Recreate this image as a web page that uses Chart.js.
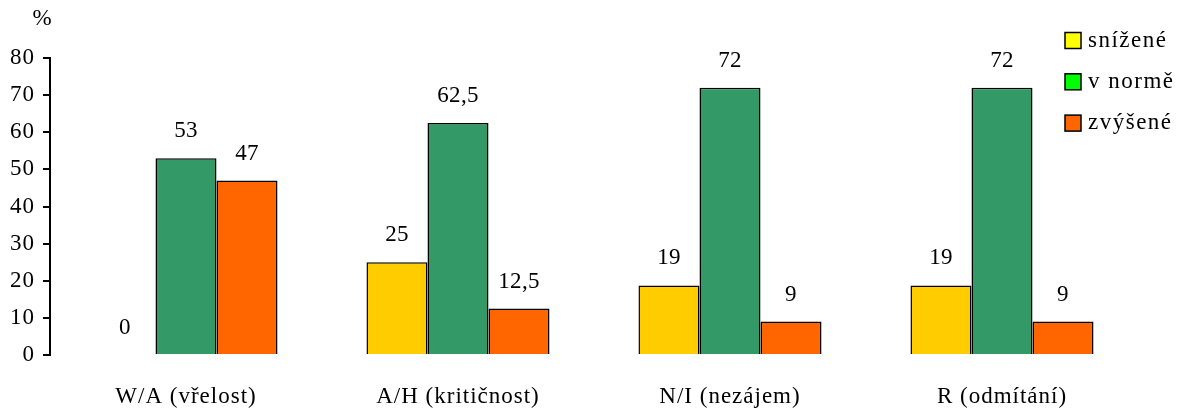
<!DOCTYPE html>
<html>
<head>
<meta charset="utf-8">
<script src="https://cdn.jsdelivr.net/npm/chart.js@4/dist/chart.umd.min.js"></script>
<style>
  html, body { margin: 0; padding: 0; background: #fff; }
  #wrap { width: 1178px; height: 408px; }
</style>
</head>
<body>
<div id="wrap"><canvas id="chart"></canvas></div>
<script>
// data
const categories = ["W/A (vřelost)", "A/H (kritičnost)", "N/I (nezájem)", "R (odmítání)"];
const seriesNames = ["snížené", "v normě", "zvýšené"];
const snizene = [0, 25, 18.75, 18.75];
const vNorme = [53, 62.5, 72, 72];
const zvysene = [47, 12.5, 9, 9];
const snizeneLabels = ["0", "25", "19", "19"];
const vNormeLabels = ["53", "62,5", "72", "72"];
const zvyseneLabels = ["47", "12,5", "9", "9"];
const yTicks = [0, 10, 20, 30, 40, 50, 60, 70, 80];

const barColors = ["#FFCC00", "#339966", "#FF6600"];
const legendColors = ["#FFFF00", "#00FF00", "#FF6600"];
const FONT = "'Liberation Serif', 'Times New Roman', serif";

// value labels above the bars
const valueLabels = {
  id: "valueLabels",
  afterDatasetsDraw(c) {
    const ctx = c.ctx;
    const texts = [snizeneLabels, vNormeLabels, zvyseneLabels];
    ctx.save();
    ctx.letterSpacing = "0.3px";
    ctx.font = "23px " + FONT;
    ctx.fillStyle = "#000";
    ctx.textAlign = "center";
    ctx.textBaseline = "middle";
    c.data.datasets.forEach((ds, i) => {
      c.getDatasetMeta(i).data.forEach((bar, j) => {
        ctx.fillText(texts[i][j], bar.x, bar.y - 27);
      });
    });
    ctx.restore();
  }
};

// legend drawn inside the top right corner, plus the "%" unit
const extras = {
  id: "extras",
  beforeDraw(c) {
    c.ctx.letterSpacing = "1px";
  },
  afterDraw(c) {
    const ctx = c.ctx;
    ctx.save();
    ctx.font = "23px " + FONT;
    ctx.fillStyle = "#000";
    ctx.textBaseline = "middle";
    ctx.textAlign = "center";
    ctx.letterSpacing = "0px";
    ctx.fillText("%", 42, 19);
    ctx.textAlign = "left";
    ctx.letterSpacing = "1.5px";
    seriesNames.forEach((name, i) => {
      const y = 40.5 + i * 41.3;
      ctx.fillStyle = legendColors[i];
      ctx.fillRect(1065, y - 8, 16, 16);
      ctx.strokeStyle = "#000";
      ctx.lineWidth = 1.5;
      ctx.strokeRect(1065, y - 8, 16, 16);
      ctx.fillStyle = "#000";
      ctx.fillText(name, 1088, y);
    });
    ctx.restore();
  }
};

const ctx = document.getElementById("chart").getContext("2d");
new Chart(ctx, {
  type: "bar",
  data: {
    labels: categories,
    datasets: [snizene, vNorme, zvysene].map((d, i) => ({
      label: seriesNames[i],
      data: d,
      backgroundColor: barColors[i],
      borderColor: "#000",
      borderWidth: c => (c.raw === 0 ? 0 : 1.5),
      categoryPercentage: 0.673,
      barPercentage: 1
    }))
  },
  options: {
    responsive: true,
    maintainAspectRatio: false,
    animation: false,
    layout: { padding: { top: 58, right: 40, bottom: 0, left: 0 } },
    plugins: {
      legend: { display: false },
      tooltip: { enabled: false }
    },
    scales: {
      x: {
        grid: { display: false, drawTicks: false },
        border: { display: false },
        ticks: {
          color: "#000",
          font: { family: FONT, size: 23 },
          padding: 28,
          maxRotation: 0,
          autoSkip: false
        },
        afterFit: s => { s.height = 53; }
      },
      y: {
        min: 0,
        max: 80,
        afterBuildTicks: s => { s.ticks = yTicks.map(v => ({ value: v })); },
        grid: {
          drawOnChartArea: false,
          drawTicks: true,
          tickLength: 7,
          color: "#000",
          lineWidth: 2
        },
        border: { display: true, color: "#000", width: 2 },
        ticks: {
          color: "#000",
          font: { family: FONT, size: 23 },
          padding: 8
        },
        afterFit: s => { s.width = 50; }
      }
    }
  },
  plugins: [valueLabels, extras]
});
</script>
</body>
</html>
